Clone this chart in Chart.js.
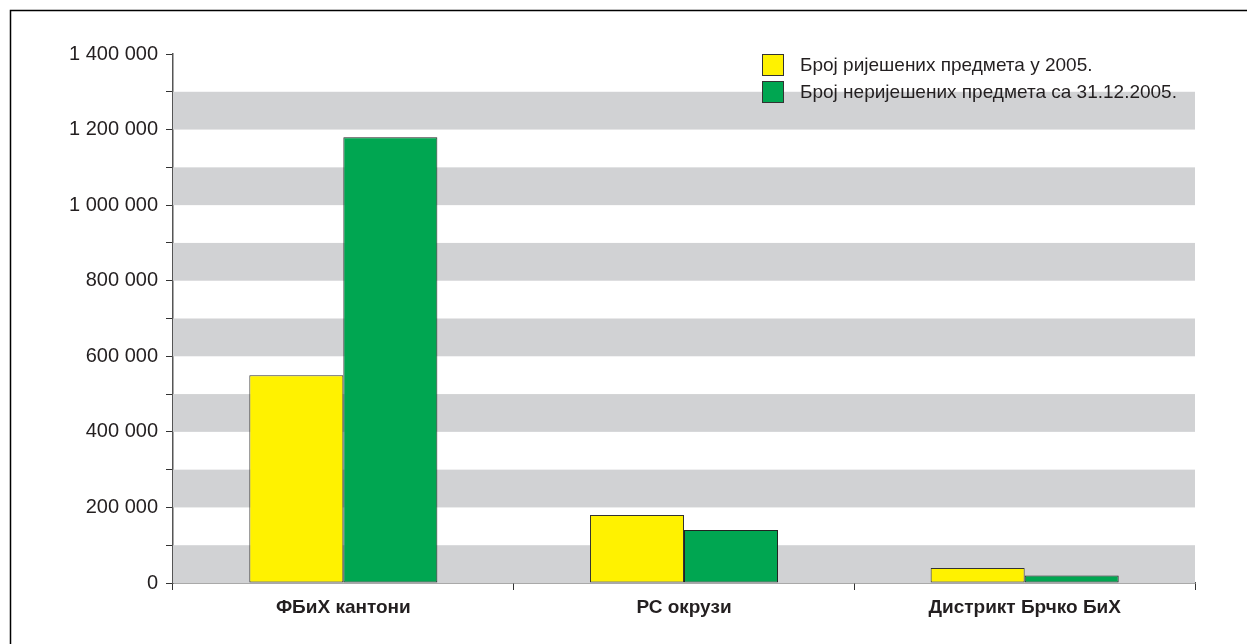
<!DOCTYPE html>
<html>
<head>
<meta charset="utf-8">
<script src="https://cdn.jsdelivr.net/npm/chart.js@4/dist/chart.umd.min.js"></script>
<style>
  html, body { margin: 0; padding: 0; background: #fff; }
  #wrap { position: relative; width: 1247px; height: 644px; }
  canvas { display: block; }
</style>
</head>
<body>
<div id="wrap"><canvas id="c" width="1247" height="644"></canvas></div>
<script>
const categories = ['ФБиХ кантони', 'РС окрузи', 'Дистрикт Брчко БиХ'];
const seriesNames = ['Број ријешених предмета у 2005.', 'Број неријешених предмета са 31.12.2005.'];
const solved = [550000, 180000, 40000];
const unsolved = [1180000, 140000, 20000];
const yTickValues = [0, 200000, 400000, 600000, 800000, 1000000, 1200000, 1400000];
const bandStarts = [0, 200000, 400000, 600000, 800000, 1000000, 1200000];
const bandSize = 100000;

const FONT = '"Liberation Sans", Arial, sans-serif';

function fmt(v) {
  return String(v).replace(/\B(?=(\d{3})+(?!\d))/g, ' ');
}

const bandsPlugin = {
  id: 'bands',
  beforeDatasetsDraw(chart) {
    const { ctx, chartArea, scales } = chart;
    ctx.save();
    ctx.fillStyle = '#d1d2d4';
    bandStarts.forEach(s => {
      const y1 = scales.y.getPixelForValue(s);
      const y2 = scales.y.getPixelForValue(s + bandSize);
      ctx.fillRect(chartArea.left, y2, chartArea.right - chartArea.left, y1 - y2);
    });
    ctx.restore();
  }
};

const framePlugin = {
  id: 'frame',
  afterDraw(chart) {
    const { ctx } = chart;
    ctx.save();
    ctx.strokeStyle = '#000';
    ctx.lineWidth = 1.5;
    ctx.beginPath();
    ctx.moveTo(10.5, 700);
    ctx.lineTo(10.5, 10.5);
    ctx.lineTo(1300, 10.5);
    ctx.stroke();
    ctx.restore();
  }
};

const legendPlugin = {
  id: 'customLegend',
  afterDraw(chart) {
    const { ctx } = chart;
    ctx.save();
    const x0 = 762, y0 = 54, box = 22, gap = 27;
    chart.data.datasets.forEach((ds, i) => {
      const y = y0 + i * gap;
      ctx.fillStyle = ds.backgroundColor;
      ctx.fillRect(x0, y, box, box);
      ctx.strokeStyle = '#333';
      ctx.lineWidth = 1;
      ctx.strokeRect(x0 + 0.5, y + 0.5, box - 1, box - 1);
      ctx.fillStyle = '#231f20';
      ctx.font = '19px ' + FONT;
      ctx.textBaseline = 'middle';
      ctx.fillText(ds.label, 800, y + box / 2 + 1);
    });
    ctx.restore();
  }
};

new Chart(document.getElementById('c'), {
  type: 'bar',
  data: {
    labels: categories,
    datasets: [
      { label: seriesNames[0], data: solved, backgroundColor: '#fff200', borderColor: '#333', borderWidth: 1, borderSkipped: false },
      { label: seriesNames[1], data: unsolved, backgroundColor: '#00a651', borderColor: '#222', borderWidth: 1, borderSkipped: false }
    ]
  },
  options: {
    responsive: false,
    animation: false,
    layout: { padding: { top: 54, right: 52, left: 0, bottom: 0 } },
    plugins: { legend: { display: false }, tooltip: { enabled: false } },
    datasets: { bar: { categoryPercentage: 0.552, barPercentage: 1 } },
    scales: {
      x: {
        afterFit(scale) { scale.height = 61; },
        border: { color: '#555', width: 1.5 },
        grid: { drawOnChartArea: false, drawTicks: true, tickLength: 7, color: '#333', offset: true },
        ticks: { color: '#231f20', padding: 6, font: { family: FONT, size: 19, weight: 'bold' } }
      },
      y: {
        min: 0, max: 1400000,
        afterFit(scale) { scale.width = 173; },
        afterBuildTicks(scale) {
          const t = [];
          for (let v = 0; v <= 1400000; v += bandSize) t.push({ value: v });
          scale.ticks = t;
        },
        border: { color: '#555', width: 1.5 },
        grid: { drawOnChartArea: false, drawTicks: true, tickLength: 7, color: '#333' },
        ticks: {
          autoSkip: false,
          color: '#231f20',
          padding: 8,
          font: { family: FONT, size: 20 },
          callback: (v) => yTickValues.includes(v) ? fmt(v) : ''
        }
      }
    }
  },
  plugins: [bandsPlugin, legendPlugin, framePlugin]
});
</script>
</body>
</html>
